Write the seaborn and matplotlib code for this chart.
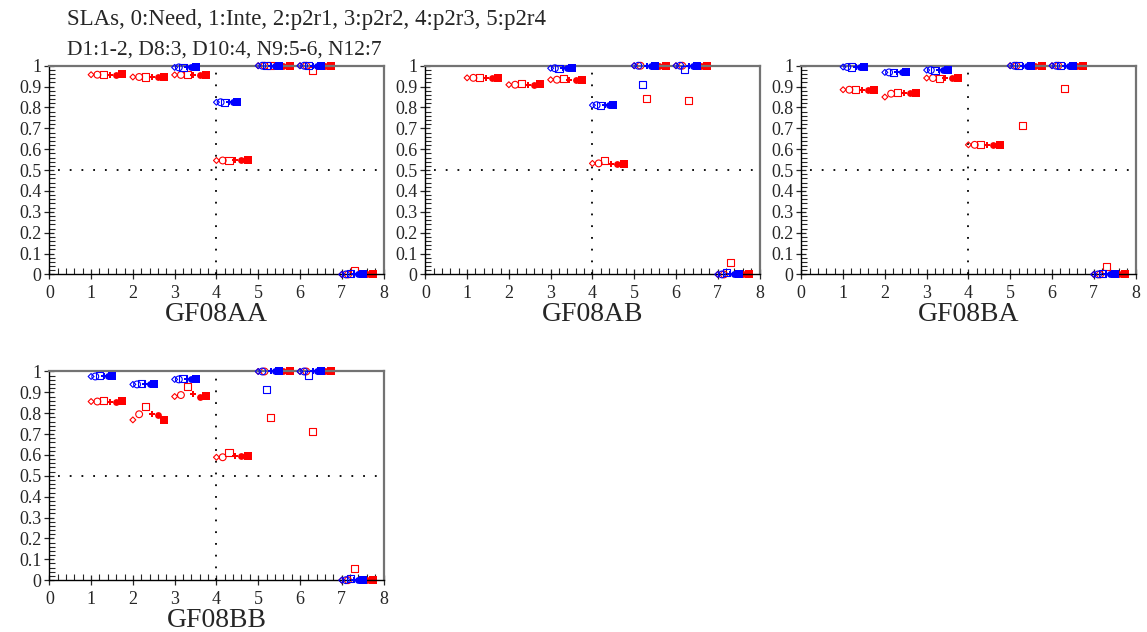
import numpy as np
import pandas as pd
import matplotlib
matplotlib.use("Agg")
import matplotlib.pyplot as plt
import seaborn as sns
from matplotlib.ticker import MultipleLocator, FuncFormatter

GRUPOS = [1, 2, 3, 4, 5, 6, 7]
MEDIDAS = ["Need", "Inte", "p2r1", "p2r2", "p2r3", "p2r4"]
PANELES = ["GF08AA", "GF08AB", "GF08BA", "GF08BB"]
NA = [np.nan] * 6

# filas = grupo 1..7, columnas = medida 0..5
ROJO_AA = [[0.957, 0.957, 0.957, 0.957, 0.957, 0.958],
           [0.946, 0.946, 0.946, 0.946, 0.946, 0.946],
           [0.956, 0.956, 0.956, 0.956, 0.956, 0.957],
           [0.546, 0.546, 0.546, 0.546, 0.546, 0.548],
           [1, 1, 1, 1, 1, 1],
           [1, 1, 0.975, 1, 1, 1],
           [0, 0, 0.017, 0, 0, 0]]
AZUL_AA = [NA, NA,
           [0.992, 0.992, 0.992, 0.992, 0.992, 0.992],
           [0.825, 0.825, 0.825, 0.825, 0.825, 0.825],
           [1, 1, 1, 1, 1, 1],
           [1, 1, 1, 1, 1, 1],
           [0, 0, 0.003, 0, 0, 0]]

ROJO_AB = [[0.942, 0.942, 0.942, 0.942, 0.942, 0.942],
           [0.909, 0.909, 0.914, 0.910, 0.910, 0.911],
           [0.933, 0.933, 0.937, 0.933, 0.933, 0.934],
           [0.532, 0.532, 0.546, 0.531, 0.531, 0.530],
           [1, 1, 0.841, 1, 1, 1],
           [1, 1, 0.834, 1, 1, 1],
           [0, 0, 0.058, 0, 0, 0]]
AZUL_AB = [NA, NA,
           [0.988, 0.988, 0.988, 0.988, 0.988, 0.988],
           [0.811, 0.811, 0.811, 0.811, 0.811, 0.811],
           [1, 1, 0.912, 1, 1, 1],
           [1, 1, 0.983, 1, 1, 1],
           [0, 0, 0.008, 0, 0, 0]]

ROJO_BA = [[0.885, 0.885, 0.885, 0.885, 0.885, 0.885],
           [0.850, 0.866, 0.871, 0.869, 0.869, 0.869],
           [0.941, 0.941, 0.941, 0.941, 0.941, 0.941],
           [0.621, 0.621, 0.621, 0.621, 0.621, 0.621],
           [1, 1, 0.715, 1, 1, 1],
           [1, 1, 0.890, 1, 1, 1],
           [0, 0, 0.040, 0, 0, 0]]
AZUL_BA = [[0.994, 0.994, 0.994, 0.994, 0.994, 0.994],
           [0.968, 0.968, 0.968, 0.968, 0.968, 0.968],
           [0.979, 0.979, 0.979, 0.979, 0.979, 0.979],
           NA,
           [1, 1, 1, 1, 1, 1],
           [1, 1, 1, 1, 1, 1],
           [0, 0, 0.003, 0, 0, 0]]

ROJO_BB = [[0.856, 0.856, 0.862, 0.856, 0.856, 0.857],
           [0.768, 0.795, 0.832, 0.797, 0.791, 0.766],
           [0.880, 0.887, 0.930, 0.890, 0.880, 0.882],
           [0.589, 0.589, 0.610, 0.595, 0.596, 0.596],
           [1, 1, 0.779, 1, 1, 1],
           [1, 1, 0.712, 1, 1, 1],
           [0, 0, 0.056, 0, 0, 0]]
AZUL_BB = [[0.976, 0.976, 0.979, 0.976, 0.976, 0.976],
           [0.938, 0.938, 0.943, 0.938, 0.938, 0.938],
           [0.962, 0.962, 0.965, 0.962, 0.962, 0.962],
           NA,
           [1, 1, 0.912, 1, 1, 1],
           [1, 1, 0.983, 1, 1, 1],
           [0, 0, 0.008, 0, 0, 0]]

DATOS = {"GF08AA": (ROJO_AA, AZUL_AA), "GF08AB": (ROJO_AB, AZUL_AB),
         "GF08BA": (ROJO_BA, AZUL_BA), "GF08BB": (ROJO_BB, AZUL_BB)}

# estilo de cada medida: marcador, tamaño, relleno
MARCADORES = [("D", 9, False), ("o", 24, False), ("s", 26, False),
              ("P", 16, True), ("o", 24, True), ("s", 34, True)]
SERIES = {"rojo": ("#ff0000", 0.15, 2), "azul": ("#0000ff", 0.10, 3)}

filas = []
for panel, (rojo, azul) in DATOS.items():
    for serie, tabla in (("rojo", rojo), ("azul", azul)):
        paso = SERIES[serie][1]
        for g, valores in zip(GRUPOS, tabla):
            for m, v in enumerate(valores):
                filas.append({"panel": panel, "serie": serie, "medida": m,
                              "x": g + m * paso, "y": v})
df = pd.DataFrame(filas).dropna()

sns.set_style("ticks")
plt.rcParams["font.family"] = ["Liberation Serif", "DejaVu Serif"]

fig, axes = plt.subplots(2, 3, figsize=(11.47, 6.32), dpi=100)
fig.subplots_adjust(left=0.043, right=0.990, top=0.896, bottom=0.082,
                    wspace=0.125, hspace=0.465)

fmt = FuncFormatter(lambda v, p: f"{v:g}")

for ax, panel in zip(axes.flat, PANELES):
    ax.axhline(0.5, xmin=0.025, xmax=0.985, color="black", lw=1.3,
               linestyle=(0, (1, 5.5)), zorder=1)
    ax.axvline(4, color="black", lw=1.3, linestyle=(0, (1, 5.5)), zorder=1)
    for serie in ("rojo", "azul"):
        color, _, z = SERIES[serie]
        for m, (mk, tam, relleno) in enumerate(MARCADORES):
            sub = df[(df.panel == panel) & (df.serie == serie) & (df.medida == m)]
            sns.scatterplot(data=sub, x="x", y="y", ax=ax, marker=mk, s=tam,
                            color=color,
                            facecolor=color if relleno else "none",
                            edgecolor=color, linewidth=0.0 if relleno else 0.8,
                            clip_on=False, zorder=z, legend=False)
    ax.set_xlim(0, 8)
    ax.set_ylim(0, 1)
    ax.xaxis.set_major_locator(MultipleLocator(1))
    ax.xaxis.set_minor_locator(MultipleLocator(0.2))
    ax.yaxis.set_major_locator(MultipleLocator(0.1))
    ax.yaxis.set_minor_locator(MultipleLocator(0.02))
    ax.xaxis.set_major_formatter(fmt)
    ax.yaxis.set_major_formatter(fmt)
    ax.tick_params(which="major", direction="inout", length=7, width=0.9,
                   labelsize=13)
    ax.tick_params(which="minor", direction="in", length=4, width=0.8)
    ax.tick_params(axis="x", which="major", pad=4)
    ax.tick_params(axis="y", which="major", pad=2)
    for lado in ("top", "right"):
        ax.spines[lado].set_visible(True)
        ax.spines[lado].set_color("0.45")
        ax.spines[lado].set_linewidth(1.6)
    for lado in ("left", "bottom"):
        ax.spines[lado].set_color("black")
        ax.spines[lado].set_linewidth(1.0)
    ax.set_xlabel(panel, fontsize=20, labelpad=0)
    ax.set_ylabel("")

for ax in axes.flat[len(PANELES):]:
    ax.axis("off")

fig.text(0.058, 0.960, "SLAs, 0:Need, 1:Inte, 2:p2r1, 3:p2r2, 4:p2r3, 5:p2r4",
         fontsize=16.5, ha="left", va="baseline")
fig.text(0.058, 0.914, "D1:1-2, D8:3, D10:4, N9:5-6, N12:7",
         fontsize=15.5, ha="left", va="baseline")

fig.savefig("out.png", dpi=100)
